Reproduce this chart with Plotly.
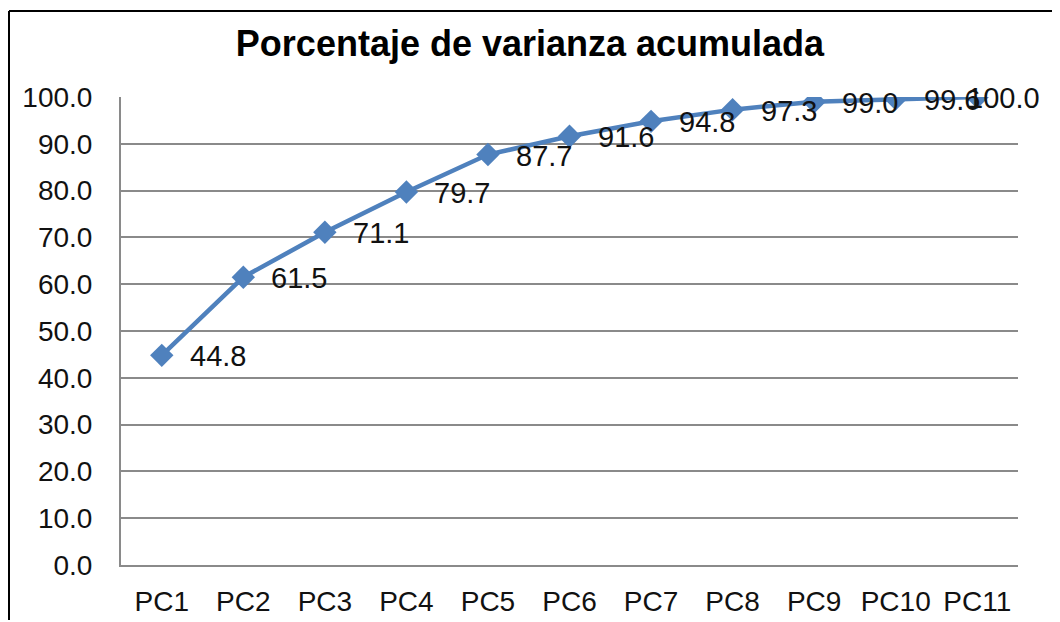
import plotly.graph_objects as go

categories = ["PC1", "PC2", "PC3", "PC4", "PC5", "PC6", "PC7", "PC8", "PC9", "PC10", "PC11"]
values = [44.8, 61.5, 71.1, 79.7, 87.7, 91.6, 94.8, 97.3, 99.0, 99.6, 100.0]
y_ticks = [0, 10, 20, 30, 40, 50, 60, 70, 80, 90, 100]
title_text = "Porcentaje de varianza acumulada"

# page body has an 8px margin; figure sized so it fits the 1060x622 window
W, H = 1044, 612
L, R, T, B = 113, 34, 89, 55
pw, ph = W - L - R, H - T - B

FONT = "Liberation Sans, Arial, sans-serif"
BLUE = "#4F81BD"
GRID = "#8A8A8A"

fig = go.Figure()
fig.add_trace(go.Scatter(
    x=categories, y=values, mode="lines+markers",
    line=dict(color=BLUE, width=4.5),
    marker=dict(symbol="diamond", size=18, color=BLUE),
    hoverinfo="x+y", showlegend=False,
))

annotations = []
for i, (c, v) in enumerate(zip(categories, values)):
    last = i == len(values) - 1
    annotations.append(dict(
        x=c, y=v, xref="x", yref="y", text=f"{v:.1f}", showarrow=False,
        xanchor="left", yanchor="middle", xshift=(-12 if last else 26), yshift=-1,
        font=dict(family=FONT, size=29, color="#111111"),
    ))

def px_x(p):
    return (p - L) / pw

def px_y(p):
    return (H - B - p) / ph

shapes = [
    dict(type="line", xref="paper", yref="paper", x0=px_x(1), x1=px_x(1100), y0=px_y(3), y1=px_y(3),
         line=dict(color="#000000", width=2)),
    dict(type="line", xref="paper", yref="paper", x0=px_x(1), x1=px_x(1), y0=px_y(3), y1=px_y(700),
         line=dict(color="#000000", width=2)),
]

fig.update_layout(
    width=W, height=H,
    margin=dict(l=L, r=R, t=T, b=B, autoexpand=False),
    paper_bgcolor="white", plot_bgcolor="white",
    title=dict(text=f"<b>{title_text}</b>", x=0.5, xref="container", xanchor="center",
               y=1 - 35 / H, yref="container", yanchor="middle",
               font=dict(family=FONT, size=36, color="#000000")),
    annotations=annotations,
    shapes=shapes,
    xaxis=dict(
        type="category", range=[-0.5, len(categories) - 0.5],
        showgrid=False, showline=True, linecolor=GRID, linewidth=2,
        ticks="", ticklabelstandoff=10,
        tickfont=dict(family=FONT, size=28, color="#111111"),
        zeroline=False, fixedrange=True,
    ),
    yaxis=dict(
        range=[0, 100], tickvals=y_ticks, tickformat=".1f",
        showgrid=True, gridcolor=GRID, gridwidth=1.5,
        showline=True, linecolor=GRID, linewidth=2,
        ticks="", ticklabelstandoff=21,
        tickfont=dict(family=FONT, size=28, color="#111111"),
        zeroline=False, fixedrange=True,
    ),
)

fig.write_html("out.html")
